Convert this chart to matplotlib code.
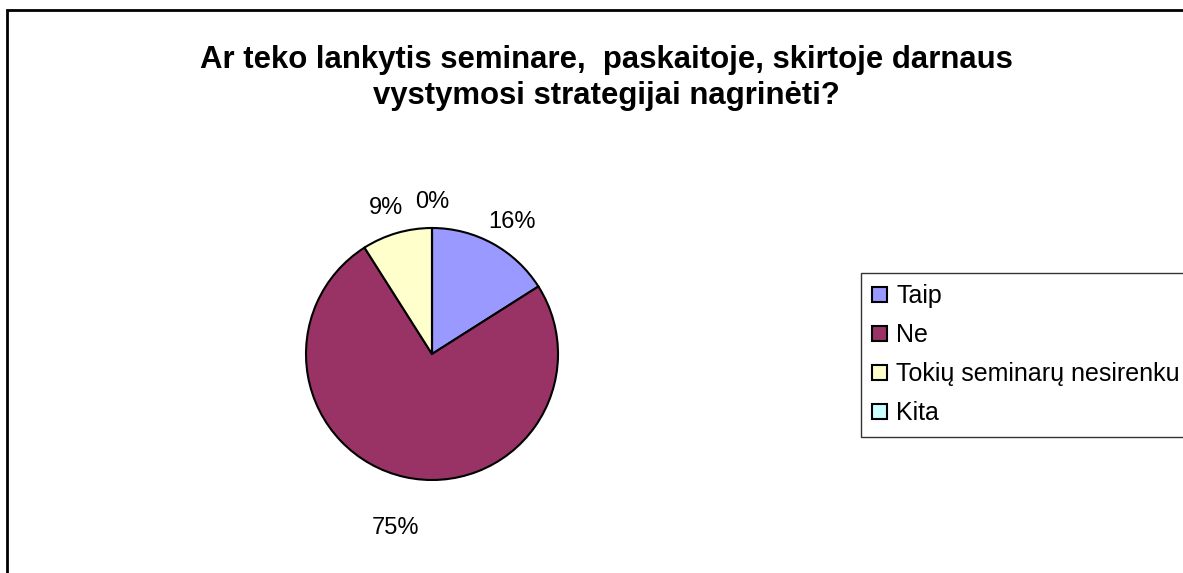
import matplotlib.pyplot as plt
import matplotlib.transforms as mtransforms
from matplotlib.patches import Rectangle

plt.rcParams['font.family'] = ['Liberation Sans', 'DejaVu Sans']

# Data
labels = ['Taip', 'Ne', 'Tokių seminarų nesirenku', 'Kita']
values = [16, 75, 9, 0]
colors = ['#9999FF', '#993366', '#FFFFCC', '#CCFFFF']
title = 'Ar teko lankytis seminare,  paskaitoje, skirtoje darnaus\nvystymosi strategijai nagrinėti?'

W, H = 1183, 573
fig = plt.figure(figsize=(W / 100, H / 100), dpi=100)
fig.patch.set_facecolor('white')

# chart area border (runs off right and bottom)
fig.add_artist(Rectangle((7 / W, -0.05), 1.1, (H - 10) / H + 0.05,
                         transform=fig.transFigure, fill=False,
                         edgecolor='black', linewidth=2))

ax = fig.add_axes([0, 0, 1, 1])
wedges, texts = ax.pie(values, colors=colors, startangle=90, counterclock=False,
                       center=(432, H - 354), radius=126,
                       labels=['%d%%' % v for v in values], labeldistance=1.31,
                       wedgeprops=dict(edgecolor='black', linewidth=1.5),
                       textprops=dict(fontsize=17, color='black'))
# labels sit a little lower than the plain radial position
shift = mtransforms.ScaledTranslation(0, -0.13, fig.dpi_scale_trans)
for t in texts:
    t.set_ha('center')
    t.set_va('center')
    t.set_transform(t.get_transform() + shift)
ax.set_xlim(0, W)
ax.set_ylim(0, H)
ax.set_aspect('auto')
ax.axis('off')

fig.text(606 / W, 1 - 78 / H, title, ha='center', va='center',
         fontsize=22.4, fontweight='bold', linespacing=1.25)

leg = fig.legend(wedges, labels, loc='upper left', bbox_to_anchor=(861 / W, 1 - 273 / H),
                 fontsize=18, frameon=True, fancybox=False, edgecolor='black',
                 handlelength=0.6, handleheight=0.6, handletextpad=0.35,
                 labelspacing=0.6, borderpad=0.45, borderaxespad=0)
leg.get_frame().set_linewidth(1)

fig.savefig('out.png', dpi=100)
